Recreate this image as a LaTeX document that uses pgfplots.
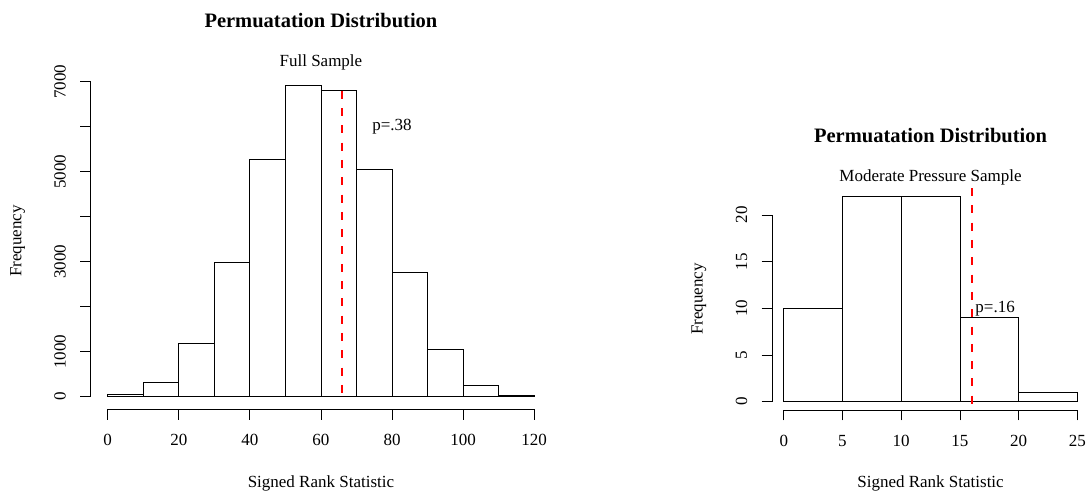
\documentclass[border=0pt]{standalone}
\usepackage{pgfplots}
\pgfplotsset{compat=1.18}
\usepackage{fontspec}
\setmainfont{Liberation Serif}

\newcommand{\basefont}{\fontsize{17bp}{20bp}\selectfont}
\newcommand{\titlefont}{\fontsize{20.5bp}{24bp}\selectfont\bfseries}

\pgfplotsset{
  rstyle/.style={
    scale only axis,
    anchor=south west,
    clip=false,
    axis line style={draw=none},
    tick align=outside,
    xtick pos=bottom, ytick pos=left,
    major tick length=10.5bp,
    tick style={black, line width=0.8bp},
    /pgf/number format/assume math mode=true,
    /pgf/number format/1000 sep={},
    tick label style={font=\basefont},
    xticklabel style={anchor=center, yshift=-20.5bp},
    yticklabel style={anchor=center, xshift=-20bp, rotate=90},
    every axis x label/.style={at={(axis description cs:0.5,0)}, yshift=-74bp, anchor=center, font=\basefont},
    every axis y label/.style={at={(axis description cs:0,0.5)}, xshift=-73bp, rotate=90, anchor=center, font=\basefont},
    every axis title/.style={at={(axis description cs:0.5,1)}, yshift=52.5bp, anchor=center, font=\titlefont},
  }
}

\begin{document}
\begin{tikzpicture}
\path[use as bounding box] (0,0) rectangle (1086bp,497bp);

% Left panel
\begin{axis}[rstyle,
  at={(90.6bp,87.8bp)},
  width=460.7bp, height=336.3bp,
  xmin=-4.8, xmax=124.8, ymin=-276.8, ymax=7196.8,
  xtick={0,20,40,60,80,100,120},
  ytick={0,1000,2000,3000,4000,5000,6000,7000},
  yticklabels={0,1000,,3000,,5000,,7000},
  title={Permuatation Distribution},
  xlabel={Signed Rank Statistic},
  ylabel={Frequency},
]
\draw[black, line width=0.8bp] (axis cs:0,-276.8) -- (axis cs:120,-276.8);
\draw[black, line width=0.8bp] (axis cs:-4.8,0) -- (axis cs:-4.8,7000);
\addplot[ybar interval, fill=white, draw=black, line width=0.8bp] coordinates {
  (0,43) (10,310) (20,1190) (30,2990) (40,5280) (50,6920)
  (60,6815) (70,5060) (80,2770) (90,1060) (100,263) (110,33) (120,0)
};
\addplot[red, line width=2.2bp, dash pattern=on 8bp off 9.3bp] coordinates {(66,6800) (66,0)};
\node[font=\basefont, anchor=center] at (axis cs:80,6000) {p=.38};
\node[font=\basefont, anchor=center] at ([yshift=10.8bp]axis description cs:0.5,1) {Full Sample};
\end{axis}

% Right panel
\begin{axis}[rstyle,
  at={(772.0bp,87.1bp)},
  width=317.1bp, height=221.8bp,
  xmin=-1, xmax=26, ymin=-0.88, ymax=22.88,
  xtick={0,5,10,15,20,25},
  ytick={0,5,10,15,20},
  title={Permuatation Distribution},
  xlabel={Signed Rank Statistic},
  ylabel={Frequency},
]
\draw[black, line width=0.8bp] (axis cs:0,-0.88) -- (axis cs:25,-0.88);
\draw[black, line width=0.8bp] (axis cs:-1,0) -- (axis cs:-1,20);
\addplot[ybar interval, fill=white, draw=black, line width=0.8bp] coordinates {
  (0,10) (5,22) (10,22) (15,9) (20,1) (25,0)
};
\addplot[red, line width=2.2bp, dash pattern=on 8bp off 9.3bp] coordinates {(16,22.88) (16,-0.88)};
\node[font=\basefont, anchor=center] at (axis cs:18,10) {p=.16};
\node[font=\basefont, anchor=center] at ([yshift=10.8bp]axis description cs:0.5,1) {Moderate Pressure Sample};
\end{axis}
\end{tikzpicture}
\end{document}
